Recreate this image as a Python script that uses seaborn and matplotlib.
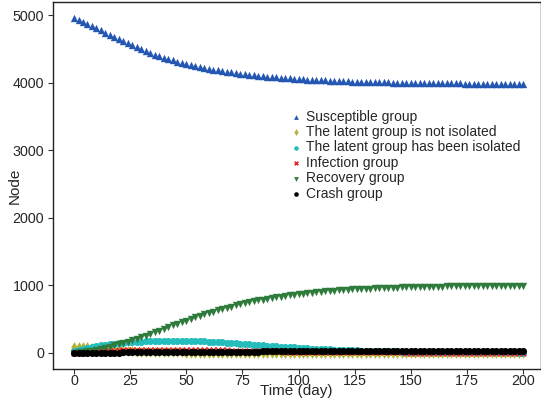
import numpy as np
import pandas as pd
import matplotlib
matplotlib.use("Agg")
import matplotlib.pyplot as plt
import seaborn as sns

days = list(range(0, 201, 2))

susceptible = [4960, 4929, 4897, 4866, 4835, 4803, 4772, 4741, 4710, 4678,
               4647, 4616, 4584, 4553, 4522, 4493, 4466, 4440, 4415, 4392,
               4370, 4349, 4329, 4310, 4292, 4276, 4260, 4245, 4230, 4217,
               4204, 4192, 4180, 4170, 4159, 4149, 4140, 4131, 4123, 4115,
               4108, 4101, 4094, 4088, 4082, 4076, 4071, 4066, 4061, 4056,
               4052, 4048, 4044, 4040, 4037, 4034, 4031, 4028, 4025, 4022,
               4020, 4017, 4015, 4013, 4011, 4009, 4007, 4006, 4004, 4002,
               4001, 4000, 3998, 3997, 3996, 3995, 3994, 3993, 3992, 3991,
               3990, 3989, 3988, 3988, 3987, 3986, 3986, 3985, 3985, 3984,
               3984, 3983, 3983, 3982, 3982, 3982, 3981, 3981, 3981, 3980,
               3980]

latent_not_isolated = [85, 84, 82, 78, 72, 65, 58, 51, 45, 39,
                       34, 29, 25, 21, 18, 15, 13, 11, 9, 8,
                       7, 6, 5, 4, 4, 3, 3, 2, 2, 2,
                       1, 1, 1, 1, 1, 0, 0, 0, 0, 0,
                       0, 0, 0, 0, 0, 0, 0, 0, 0, 0,
                       0, 0, 0, 0, 0, 0, 0, 0, 0, 0,
                       0, 0, 0, 0, 0, 0, 0, 0, 0, 0,
                       0, 0, 0, 0, 0, 0, 0, 0, 0, 0,
                       0, 0, 0, 0, 0, 0, 0, 0, 0, 0,
                       0, 0, 0, 0, 0, 0, 0, 0, 0, 0,
                       0]

latent_isolated = [20, 38, 55, 70, 84, 97, 108, 118, 127, 135,
                   142, 148, 153, 158, 162, 166, 169, 172, 174, 176,
                   177, 178, 178, 178, 177, 176, 175, 173, 171, 168,
                   165, 162, 158, 154, 150, 146, 141, 136, 131, 126,
                   121, 116, 111, 106, 101, 96, 91, 86, 82, 78,
                   74, 70, 66, 62, 58, 55, 52, 49, 46, 43,
                   40, 38, 36, 34, 32, 30, 28, 26, 24, 23,
                   21, 20, 19, 18, 17, 16, 15, 14, 13, 12,
                   11, 10, 10, 9, 9, 8, 8, 7, 7, 6,
                   6, 6, 5, 5, 5, 4, 4, 4, 4, 3,
                   3]

infection = [0, 3, 7, 11, 15, 19, 23, 26, 29, 32,
             35, 37, 39, 41, 42, 43, 44, 45, 45, 46,
             46, 46, 46, 45, 45, 44, 43, 42, 41, 40,
             39, 38, 36, 35, 34, 32, 31, 30, 28, 27,
             26, 24, 23, 22, 21, 20, 19, 18, 17, 16,
             15, 14, 13, 12, 12, 11, 10, 10, 9, 9,
             8, 8, 7, 7, 6, 6, 6, 5, 5, 5,
             4, 4, 4, 4, 3, 3, 3, 3, 3, 2,
             2, 2, 2, 2, 2, 2, 2, 1, 1, 1,
             1, 1, 1, 1, 1, 1, 1, 1, 1, 1,
             1]

recovery = [0, 5, 12, 21, 32, 45, 59, 74, 90, 107,
            125, 144, 164, 185, 207, 230, 254, 278, 303, 328,
            353, 378, 403, 428, 452, 476, 500, 523, 546, 568,
            589, 609, 629, 648, 666, 684, 701, 717, 732, 747,
            761, 774, 787, 799, 811, 822, 832, 842, 851, 860,
            868, 876, 883, 890, 897, 903, 909, 914, 919, 924,
            929, 933, 937, 941, 944, 947, 950, 953, 956, 958,
            961, 963, 965, 967, 969, 971, 972, 974, 975, 977,
            978, 979, 980, 981, 982, 983, 984, 985, 986, 986,
            987, 988, 988, 989, 989, 990, 990, 991, 991, 992,
            993]

crash = [0, 0, 0, 0, 1, 1, 1, 2, 2, 3,
         3, 4, 4, 5, 5, 6, 6, 7, 8, 8,
         9, 9, 10, 11, 11, 12, 12, 13, 13, 14,
         14, 15, 15, 16, 16, 16, 17, 17, 17, 18,
         18, 18, 19, 19, 19, 19, 20, 20, 20, 20,
         20, 21, 21, 21, 21, 21, 21, 21, 21, 21,
         21, 22, 22, 22, 22, 22, 22, 22, 22, 22,
         22, 22, 22, 22, 22, 22, 22, 22, 22, 22,
         22, 22, 22, 22, 22, 22, 22, 22, 22, 22,
         22, 22, 22, 22, 22, 22, 22, 22, 22, 22,
         22]

series_labels = ["Susceptible group", "The latent group is not isolated",
                 "The latent group has been isolated", "Infection group",
                 "Recovery group", "Crash group"]

sns.set_style("ticks")
plt.rcParams['font.family'] = ['Liberation Sans', 'DejaVu Sans']

fig = plt.figure(figsize=(5.41, 4.05), dpi=100)
ax = fig.add_axes([0.0974, 0.0889, 0.9017, 0.9069])

styles = [
    (susceptible, "^", "#2457b2", 28, 0),
    (latent_not_isolated, "d", "#b2b43a", 30, 0),
    (latent_isolated, "o", "#25bcbc", 26, 0),
    (infection, "x", "#e8232a", 16, 1.2),
    (recovery, "v", "#2e7b3c", 28, 0),
    (crash, "o", "#000000", 26, 0),
]

for (vals, mk, col, size, lw), lab in zip(styles, series_labels):
    df = pd.DataFrame({"t": days, "v": vals})
    sns.scatterplot(data=df, x="t", y="v", marker=mk, color=col, s=size,
                    linewidth=lw, ax=ax, label=lab)

ax.set_xlim(-9.5, 207.8)
ax.set_ylim(-241, 5197)
ax.set_xticks([0, 25, 50, 75, 100, 125, 150, 175, 200])
ax.set_yticks([0, 1000, 2000, 3000, 4000, 5000])
ax.tick_params(axis='both', direction='out', length=3.5, width=0.8,
               labelsize=10.3, color='#333333', top=False, right=False)
ax.tick_params(axis='x', pad=0.3)
ax.tick_params(axis='y', pad=2.5)
for sp in ax.spines.values():
    sp.set_linewidth(1.0)
    sp.set_color('#222222')

ax.set_xlabel("Time (day)", fontsize=11)
ax.set_ylabel("Node", fontsize=11)
ax.xaxis.set_label_coords(0.5, -0.059)
ax.yaxis.set_label_coords(-0.077, 0.5)
ax.xaxis.label.set_va('center')
ax.yaxis.label.set_va('center')

ax.legend(loc='upper left', bbox_to_anchor=(0.4875, 0.706), frameon=False,
          fontsize=10, markerscale=0.65, handlelength=0.8, handletextpad=0.3,
          labelspacing=0.1, borderpad=0, borderaxespad=0)

fig.savefig("out.png", dpi=100)
